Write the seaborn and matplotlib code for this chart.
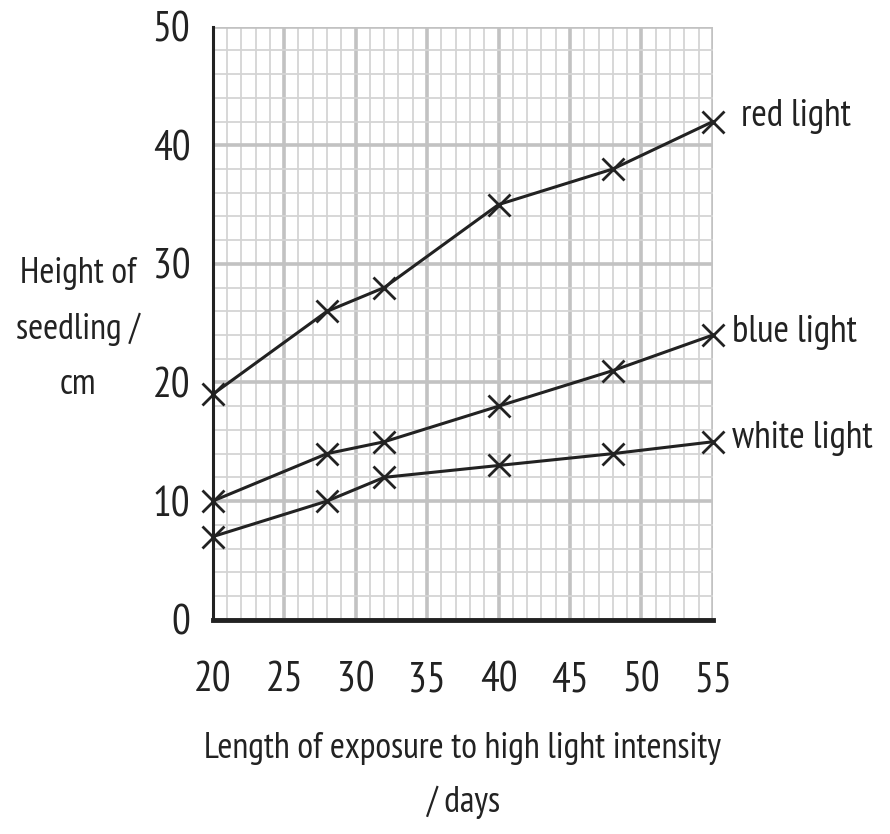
import pandas as pd
import matplotlib.pyplot as plt
import seaborn as sns

# Values
days = [20, 28, 32, 40, 48, 55]
red_light = [19, 26, 28, 35, 38, 42]
blue_light = [10, 14, 15, 18, 21, 24]
white_light = [7, 10, 12, 13, 14, 15]
series_names = ['red light', 'blue light', 'white light']

x_ticks = [20, 25, 30, 35, 40, 45, 50, 55]
y_ticks = [0, 10, 20, 30, 40, 50]

# long-form table for seaborn
df = pd.DataFrame({
    'days': days * 3,
    'height': red_light + blue_light + white_light,
    'light': [n for n in series_names for _ in days],
})

sns.set_style('white')
plt.rcParams['font.family'] = ['PT Sans Narrow', 'DejaVu Sans']

fig = plt.figure(figsize=(8.9, 8.34), dpi=100)
ax = fig.add_axes([0.239, 0.257, 0.562, 0.711])

# graph paper grid
ax.set_xticks(range(20, 56, 1), minor=True)
ax.set_yticks(range(0, 51, 2), minor=True)
ax.grid(which='minor', color='#d4d4d4', linewidth=1.3, zorder=0)
ax.grid(which='major', color='#c2c2c2', linewidth=2.6, zorder=0)
ax.set_axisbelow(True)

ink = '#222222'
sns.lineplot(data=df, x='days', y='height', hue='light', palette=[ink] * 3,
             marker='x', markersize=16, markeredgewidth=2, markeredgecolor=ink,
             linewidth=2.2, legend=False, ax=ax, zorder=3, clip_on=False)

# series labels at the right end
for name, vals in zip(series_names, [red_light, blue_light, white_light]):
    dy = 4 if name == 'red light' else 2
    dx = 20 if name == 'red light' else 14
    ax.annotate(name, xy=(days[-1], vals[-1]), xytext=(dx, dy), textcoords='offset points',
                fontsize=27, color=ink, va='center', ha='left', annotation_clip=False)

ax.set_xlim(20, 55)
ax.set_ylim(0, 50)
ax.set_xticks(x_ticks)
ax.set_yticks(y_ticks)
ax.tick_params(axis='x', which='major', length=18, width=2.2, pad=12, labelsize=30, colors=ink)
ax.tick_params(axis='y', which='major', length=12, width=2.2, pad=4, labelsize=30, colors=ink)
ax.tick_params(which='minor', length=0)

for s in ['top', 'right']:
    ax.spines[s].set_visible(False)
ax.spines['left'].set_linewidth(2.2)
ax.spines['left'].set_color(ink)
ax.spines['bottom'].set_linewidth(3.5)
ax.spines['bottom'].set_color(ink)

ax.set_xlabel('Length of exposure to high light intensity\n/ days', fontsize=26,
              color=ink, labelpad=23, linespacing=1.75)
ax.set_ylabel('Height of\nseedling /\ncm', fontsize=26, color=ink,
              rotation=0, ha='center', va='center', linespacing=1.85)
ax.yaxis.set_label_coords(-0.27, 0.49)

fig.savefig('out.png', dpi=100)
